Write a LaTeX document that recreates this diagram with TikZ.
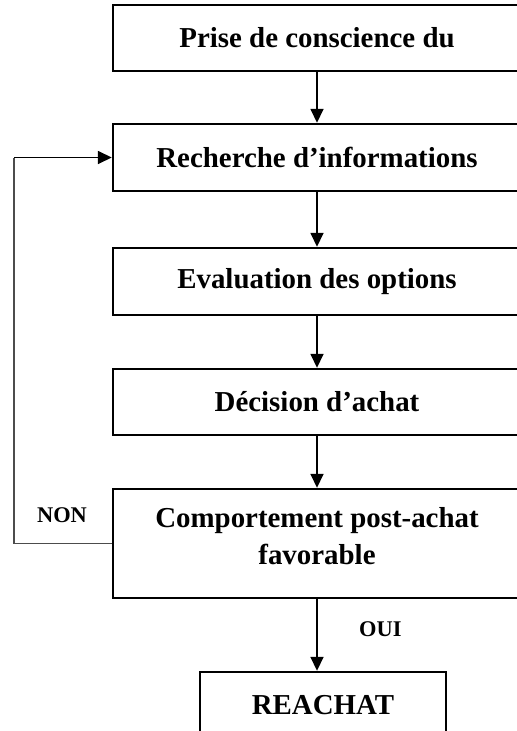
\documentclass[tikz,border=0pt]{standalone}
\usepackage{fontspec}
\setmainfont{Liberation Serif}
\usepackage{tikz}
\tikzstyle{etape}=[rectangle,line width=2.4bp,draw=black,
minimum width=408bp,minimum height=66bp,align=center,
font=\fontsize{29}{37}\selectfont\bfseries]
\tikzstyle{fin}=[rectangle,line width=2.4bp,draw=black,
minimum width=246bp,minimum height=66bp,
font=\fontsize{29}{37}\selectfont\bfseries]
\tikzstyle{reponse}=[font=\fontsize{22.5}{26}\selectfont\bfseries]
\usetikzlibrary{arrows.meta,positioning}

\begin{document}
\begin{tikzpicture}[x=1bp,y=1bp,>={Triangle[length=14bp,width=13bp]}]
            \useasboundingbox (0,0) rectangle (517,-731);
            \clip (0,0) rectangle (517,-731);

            % ETAPES

            \node[etape] (b1) at (317,-38) {Prise de conscience du};
            \node[etape,below=50.6bp of b1,minimum height=67bp] (b2) {Recherche d’informations};
            \node[etape,below=54.6bp of b2,minimum height=67bp] (b3) {Evaluation des options};
            \node[etape,below=51.6bp of b3] (b4) {Décision d’achat};
            \node[etape,below=51.6bp of b4,minimum height=109bp,
              label={[align=center,font=\fontsize{29}{37}\selectfont\bfseries,yshift=7bp]center:Comportement post-achat\\favorable}] (b5) {};
            \node[fin,below=71.6bp of b5,xshift=6bp] (b6) {REACHAT};

            \path[->,line width=1.6bp] (b1) edge (b2);
            \path[->,line width=1.6bp] (b2) edge (b3);
            \path[->,line width=1.6bp] (b3) edge (b4);
            \path[->,line width=1.6bp] (b4) edge (b5);
            \path[->,line width=1.6bp] (b5.south) edge node[reponse,right=38bp,pos=0.42] {OUI} (b5.south |- b6.north);

            % RETOUR

            \coordinate (coin) at (14,0);
            \draw[black!70,line width=1.3bp] (b5.west) -| (coin |- b2.west);
            \draw[->,line width=1.6bp] (coin |- b2.west) -- (b2.west);
            \node[reponse] (non) at (62,-515) {NON};

        \end{tikzpicture}
\end{document}
